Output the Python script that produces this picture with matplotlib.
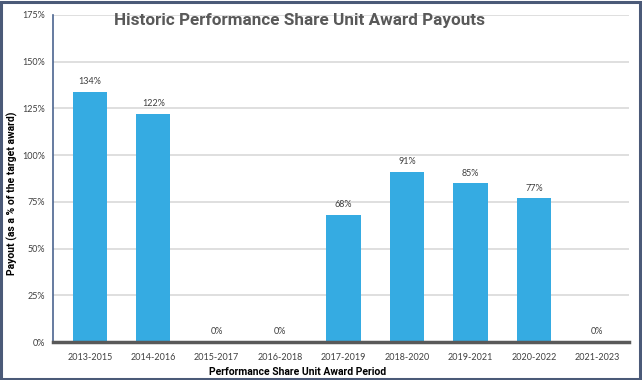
import matplotlib.pyplot as plt
from matplotlib.patches import Rectangle
from matplotlib.ticker import FuncFormatter

periods = ["2013-2015", "2014-2016", "2015-2017", "2016-2018", "2017-2019",
           "2018-2020", "2019-2021", "2020-2022", "2021-2023"]
payouts = [134, 122, 0, 0, 68, 91, 85, 77, 0]
yticks = [0, 25, 50, 75, 100, 125, 150, 175]

plt.rcParams['font.family'] = ['Lato', 'DejaVu Sans']
bold_font = ['Roboto', 'DejaVu Sans']

fig = plt.figure(figsize=(6.42, 3.80), dpi=100)
ax = fig.add_axes([53 / 642, 38 / 380, 576 / 642, 327 / 380])

# border around the whole picture
fig.patches.append(Rectangle((0.002, 0.003), 0.995, 0.993, transform=fig.transFigure,
                             fill=False, edgecolor='#4b5a78', linewidth=2.2))

x = range(len(periods))
bars = ax.bar(x, payouts, width=0.54, color='#35abe2', zorder=3)
for rect, v in zip(bars, payouts):
    ax.text(rect.get_x() + rect.get_width() / 2, v + 3, f"{v}%",
            ha='center', va='bottom', fontsize=6.5, color='#404040')

ax.set_xlim(-0.58, len(periods) - 0.5)
ax.set_ylim(0, 175)
ax.set_yticks(yticks)
ax.yaxis.set_major_formatter(FuncFormatter(lambda v, p: f"{int(v)}%"))
ax.set_xticks(list(x))
ax.set_xticklabels(periods)
ax.tick_params(axis='both', length=0, labelsize=6.5, labelcolor='#404040')
ax.tick_params(axis='x', pad=8)
ax.tick_params(axis='y', pad=6)
ax.grid(axis='y', color='#d9d9d9', linewidth=1.2, zorder=0)

for s in ['top', 'right']:
    ax.spines[s].set_visible(False)
ax.spines['left'].set_color('#4b6590')
ax.spines['left'].set_linewidth(1.2)
ax.spines['bottom'].set_color('#595959')
ax.spines['bottom'].set_linewidth(2.5)
ax.spines['bottom'].set_zorder(4)

ax.set_xlabel("Performance Share Unit Award Period", fontsize=7.5, fontweight='bold',
              color='black', family=bold_font)
ax.xaxis.set_label_coords(0.424, -0.075)
ax.set_ylabel("Payout (as a % of the target award)", fontsize=7.5, fontweight='bold',
              color='black', family=bold_font)
ax.yaxis.set_label_coords(-0.06, 0.455)

fig.text(300 / 642, 1 - 20 / 380, "Historic Performance Share Unit Award Payouts",
         ha='center', va='center', fontsize=12.3, fontweight='bold', color='#595959',
         family=bold_font)

fig.savefig("out.png", dpi=100)
